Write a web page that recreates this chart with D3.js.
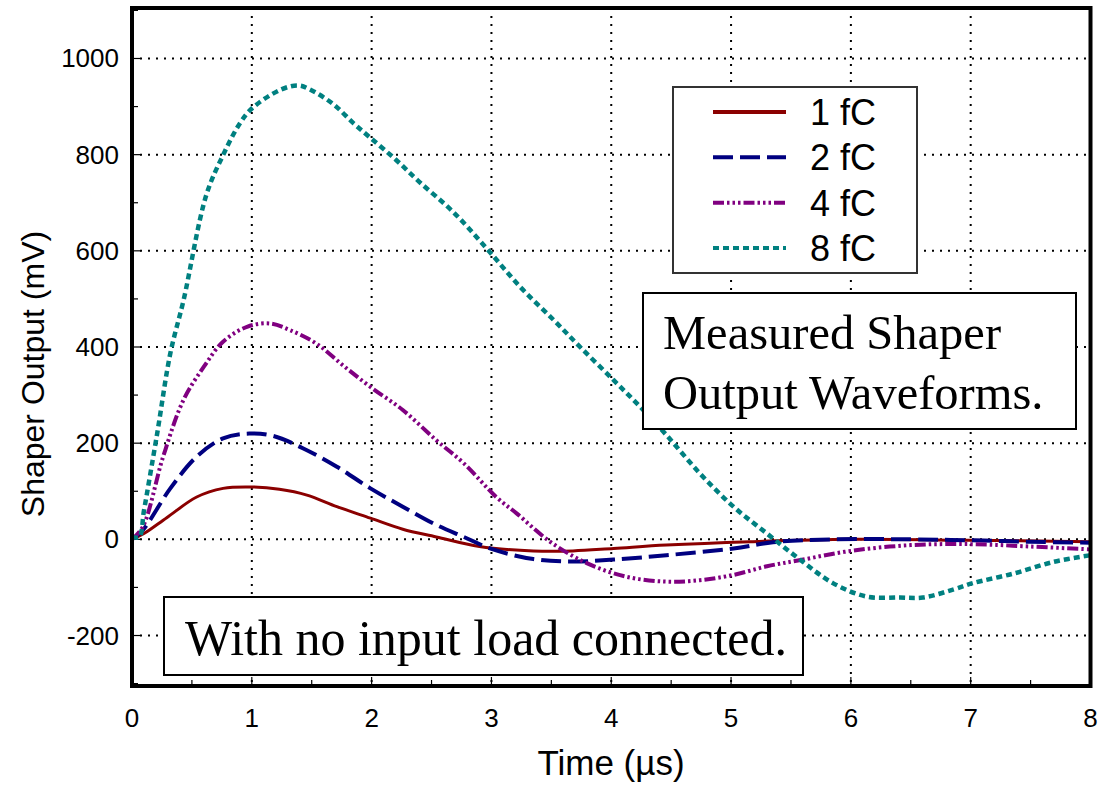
<!DOCTYPE html>
<html>
<head>
<meta charset="utf-8">
<script src="https://cdn.jsdelivr.net/npm/d3@7"></script>
<style>
  html, body { margin: 0; padding: 0; background: #fff; }
  svg { display: block; }
</style>
</head>
<body>
<svg id="chart" width="1099" height="785"></svg>
<script>
// ---- data ----
const xTicks = [0, 1, 2, 3, 4, 5, 6, 7, 8];
const yTicks = [-200, 0, 200, 400, 600, 800, 1000];
const seriesNames = ["1 fC", "2 fC", "4 fC", "8 fC"];

const t1 = [0, 0.1, 0.29, 0.54, 0.76, 0.98, 1.23, 1.46, 1.71, 1.99, 2.26, 2.54, 2.9, 3.35, 3.68, 4.02, 4.46, 5.16, 6.0, 7.0, 8.0];
const v1 = [0, 12, 45, 88, 106, 109, 104, 92, 68, 44, 21, 5, -15, -24, -24, -19, -12, -5, 0, -2, -5];

const t2 = [0, 0.09, 0.32, 0.54, 0.76, 0.98, 1.18, 1.43, 1.71, 1.99, 2.26, 2.54, 2.77, 3.0, 3.35, 3.68, 4.02, 4.46, 5.02, 5.35, 5.85, 6.5, 7.0, 7.5, 8.0];
const v2 = [0, 19, 106, 172, 210, 220, 215, 189, 151, 106, 68, 30, 5, -20, -41, -46, -42, -33, -19, -6, 0, 0, -2, -5, -7];

const t4 = [0, 0.09, 0.26, 0.43, 0.6, 0.76, 0.96, 1.15, 1.32, 1.54, 1.76, 1.99, 2.26, 2.54, 2.77, 3.04, 3.21, 3.49, 3.8, 4.13, 4.46, 4.74, 5.02, 5.3, 5.58, 6.0, 6.5, 7.0, 7.5, 8.0];
const v4 = [0, 26, 172, 290, 359, 411, 442, 449, 435, 407, 362, 317, 269, 206, 158, 88, 54, -5, -50, -78, -88, -85, -74, -56, -43, -24, -12, -10, -15, -21];

const t8 = [0, 0.06, 0.1, 0.21, 0.32, 0.43, 0.62, 0.76, 0.9, 1.0, 1.24, 1.39, 1.49, 1.68, 1.85, 1.99, 2.2, 2.4, 2.68, 2.96, 3.24, 3.52, 3.74, 4.02, 4.24, 4.46, 4.74, 5.02, 5.3, 5.58, 5.85, 6.13, 6.41, 6.6, 6.86, 7.02, 7.36, 7.69, 8.0];
const v8 = [5, 5, 60, 220, 387, 497, 716, 799, 865, 896, 935, 944, 935, 905, 865, 835, 790, 743, 681, 605, 525, 456, 400, 331, 276, 217, 137, 68, 12, -43, -91, -119, -121, -121, -104, -91, -71, -47, -33];

const noteMain = ["Measured Shaper", "Output Waveforms."];
const noteLoad = "With no input load connected.";
const xTitle = "Time (\u00B5s)";
const yTitle = "Shaper Output (mV)";

// ---- styles ----
const styles = [
  { color: "#8b0000", width: 3,   dash: null },
  { color: "#000080", width: 4,   dash: "20,7" },
  { color: "#800080", width: 4,   dash: "11,3,2.5,3,2.5,3,2.5,3" },
  { color: "#008080", width: 4.5, dash: "6,4" }
];

const svg = d3.select("#chart");
const L = 132, R = 1090.5, T = 8, B = 686;
const x = d3.scaleLinear().domain([0, 8]).range([L, R]);
const y = d3.scaleLinear().domain([-305, 1105]).range([B, T]);

// grid
const grid = svg.append("g");
grid.selectAll("line.gx").data(xTicks.slice(1, -1)).enter().append("line")
  .attr("x1", d => x(d)).attr("x2", d => x(d)).attr("y1", T).attr("y2", B)
  .attr("stroke", "#000").attr("stroke-width", 2).attr("stroke-dasharray", "2,6");
grid.selectAll("line.gy").data(yTicks).enter().append("line")
  .attr("x1", L).attr("x2", R).attr("y1", d => y(d)).attr("y2", d => y(d))
  .attr("stroke", "#000").attr("stroke-width", 2).attr("stroke-dasharray", "2,6");

// minor/major inward ticks
const yMinor = d3.range(-300, 1101, 100);
svg.append("g").selectAll("line").data(yMinor).enter().append("line")
  .attr("x1", L).attr("x2", d => L + (d % 200 === 0 ? 9 : 6))
  .attr("y1", d => y(d)).attr("y2", d => y(d)).attr("stroke", "#000").attr("stroke-width", 1.2);
const xMinor = d3.range(0.5, 8, 0.5);
svg.append("g").selectAll("line").data(xMinor).enter().append("line")
  .attr("x1", d => x(d)).attr("x2", d => x(d))
  .attr("y1", B).attr("y2", d => B - (d % 1 === 0 ? 9 : 6)).attr("stroke", "#000").attr("stroke-width", 1.2);

// series
const data = [[t1, v1], [t2, v2], [t4, v4], [t8, v8]];
const line = d3.line().x(d => x(d[0])).y(d => y(d[1])).curve(d3.curveCatmullRom.alpha(0.5));
svg.append("clipPath").attr("id", "clip").append("rect")
  .attr("x", L - 4).attr("y", T).attr("width", R - L + 4).attr("height", B - T);
const sg = svg.append("g").attr("clip-path", "url(#clip)");
data.forEach((s, i) => {
  const pts = s[0].map((t, k) => [t, s[1][k]]);
  sg.append("path").attr("d", line(pts)).attr("fill", "none")
    .attr("stroke", styles[i].color).attr("stroke-width", styles[i].width)
    .attr("stroke-dasharray", styles[i].dash);
});

// frame
svg.append("rect").attr("x", L).attr("y", T).attr("width", R - L).attr("height", B - T)
  .attr("fill", "none").attr("stroke", "#000").attr("stroke-width", 4);

// tick labels
const font = "'Liberation Sans', Arial, sans-serif";
svg.append("g").selectAll("text").data(yTicks).enter().append("text")
  .attr("x", 119).attr("y", d => y(d) + 9).attr("text-anchor", "end")
  .attr("font-family", font).attr("font-size", 26).text(d => d);
svg.append("g").selectAll("text").data(xTicks).enter().append("text")
  .attr("x", d => x(d)).attr("y", 727).attr("text-anchor", "middle")
  .attr("font-family", font).attr("font-size", 26).text(d => d);

// axis titles
svg.append("text").attr("x", 611).attr("y", 775).attr("text-anchor", "middle")
  .attr("font-family", font).attr("font-size", 35).text(xTitle);
svg.append("text").attr("transform", "translate(44,374) rotate(-90)").attr("text-anchor", "middle")
  .attr("font-family", font).attr("font-size", 32).text(yTitle);

// legend
const lg = svg.append("g");
lg.append("rect").attr("x", 673).attr("y", 87).attr("width", 244).attr("height", 186)
  .attr("fill", "#fff").attr("stroke", "#333").attr("stroke-width", 2);
const legendY = d3.scalePoint().domain(seriesNames).range([112, 248]);
seriesNames.forEach((n, i) => {
  lg.append("line").attr("x1", 713).attr("x2", 786).attr("y1", legendY(n)).attr("y2", legendY(n))
    .attr("stroke", styles[i].color).attr("stroke-width", 4).attr("stroke-dasharray", styles[i].dash);
  lg.append("text").attr("x", 810).attr("y", legendY(n) + 13).attr("font-family", font)
    .attr("font-size", 36).text(n);
});

// note boxes
const serif = "'Liberation Serif', 'Times New Roman', serif";
svg.append("rect").attr("x", 643).attr("y", 293).attr("width", 433).attr("height", 136)
  .attr("fill", "#fff").attr("stroke", "#000").attr("stroke-width", 2);
noteMain.forEach((s, i) => {
  svg.append("text").attr("x", 663).attr("y", 349 + i * 60).attr("font-family", serif)
    .attr("font-size", 48.5).text(s);
});
svg.append("rect").attr("x", 164).attr("y", 597).attr("width", 639).attr("height", 78)
  .attr("fill", "#fff").attr("stroke", "#000").attr("stroke-width", 2);
svg.append("text").attr("x", 185).attr("y", 655).attr("font-family", serif)
  .attr("font-size", 50).text(noteLoad);
</script>
</body>
</html>
